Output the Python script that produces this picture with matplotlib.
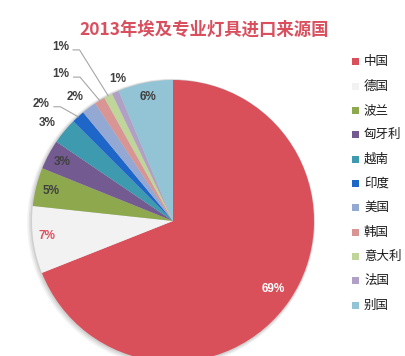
import matplotlib.pyplot as plt
import numpy as np
from matplotlib.patches import Circle, Rectangle

plt.rcParams['font.family'] = ['Noto Sans CJK SC', 'DejaVu Sans']

countries = ['中国', '德国', '波兰', '匈牙利', '越南', '印度', '美国', '韩国', '意大利', '法国', '别国']
shares = [69.0, 7.7, 4.4, 3.4, 3.0, 1.5, 1.7, 1.2, 1.0, 0.8, 6.3]
pct_text = ['69%', '7%', '5%', '3%', '3%', '2%', '2%', '1%', '1%', '1%', '6%']
colors = ['#d94f5a', '#f2f2f2', '#8ea84e', '#735a91', '#3e9aae', '#1f66c9',
          '#93a8d3', '#d89593', '#bfd59a', '#b1a0c6', '#92c4d6']

# label placement: (radius factor, angle shift in degrees), leader line flag
lab_r = [0.86, 0.90, 0.89, 0.89, 1.13, 1.25, 1.12, 1.31, 1.47, 1.08, 0.90]
lab_shift = [0, -1, 0, 0, 1.6, 6, 2, 6, 5.5, -3, 0]
leader = [False, False, False, False, False, True, False, True, True, False, False]
lab_color = ['white', '#e0505e'] + ['#404040'] * 9

W, H = 406, 356
fig = plt.figure(figsize=(W / 100, H / 100), dpi=100)
ax = fig.add_axes([0, 0, 1, 1])

cx, cy, R = 173, H - 221, 141

# soft shadow round the pie
for k, a in [(3.0, 0.10), (2.0, 0.15), (1.0, 0.2)]:
    ax.add_patch(Circle((cx - k * 0.6, cy - k * 0.6), R + k, color='#888888',
                        alpha=a, lw=0, zorder=0))

wedges, _ = ax.pie(shares, colors=colors, startangle=90, counterclock=False,
                   center=(cx, cy), radius=R,
                   wedgeprops=dict(linewidth=0, zorder=1))

for i, w in enumerate(wedges):
    mid = np.deg2rad((w.theta1 + w.theta2) / 2 + lab_shift[i])
    tx = cx + R * lab_r[i] * np.cos(mid)
    ty = cy + R * lab_r[i] * np.sin(mid)
    ax.text(tx, ty, pct_text[i], ha='center', va='center', fontsize=8.5,
            fontweight='bold', color=lab_color[i], family='Liberation Sans', zorder=5)
    if leader[i]:
        m = np.deg2rad((w.theta1 + w.theta2) / 2)
        ex, ey = cx + R * np.cos(m), cy + R * np.sin(m)
        x0 = tx + 12.5
        y0 = ty - 3
        ax.plot([x0, x0 + 6.5, ex], [y0, y0, ey], color='#a6a6a6', lw=0.8, zorder=4)

ax.set_xlim(0, W)
ax.set_ylim(0, H)
ax.set_aspect('equal')
ax.axis('off')

fig.text(204 / W, 1 - 30 / H, '2013年埃及专业灯具进口来源国', ha='center', va='center',
         fontsize=12.5, fontweight='bold', color='#d94f5e')

# legend
for i, name in enumerate(countries):
    y = 61.7 + i * 24.33
    fig.patches.append(Rectangle(((356 - 3.5) / W, 1 - (y + 3.5) / H), 7 / W, 7 / H,
                                 transform=fig.transFigure, color=colors[i], lw=0))
    fig.text(364 / W, 1 - y / H, name, ha='left', va='center', fontsize=9, color='#1a1a1a')

fig.savefig('out.png', dpi=100)
